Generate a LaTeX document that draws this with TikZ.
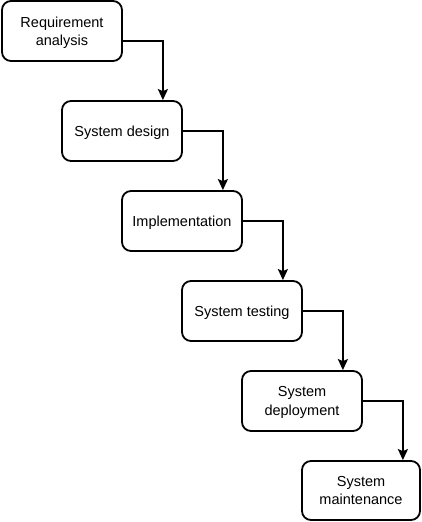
\documentclass[tikz,border=0pt]{standalone}
\usepackage{fontspec}
\setmainfont{Liberation Sans}
\usetikzlibrary{arrows.meta}
\begin{document}
\begin{tikzpicture}[x=1pt,y=-1pt,
  stage/.style={draw, line width=1.8pt, rounded corners=9pt, minimum width=120pt, minimum height=60pt, align=center, font=\fontsize{14.5pt}{18.5pt}\selectfont, inner sep=0pt, text depth=0pt},
  flow/.style={draw, line width=1.8pt, -{Stealth[length=11pt,width=10pt,inset=2pt]}}]
\useasboundingbox (0,0) rectangle (422,522);
\node[stage] (a) at (62,31) {Requirement\\analysis};
\node[stage] (b) at (122,131) {System design};
\node[stage] (c) at (182,221) {Implementation};
\node[stage] (d) at (242,311) {System testing};
\node[stage] (e) at (302,401) {System\\deployment};
\node[stage, minimum width=118pt, minimum height=59pt] (f) at (361,490.5) {System\\maintenance};
\coordinate (ax) at (122,41);
\draw[flow] (ax) -| ([xshift=-20pt]b.north east);
\draw[flow] (b.east) -| ([xshift=-20pt]c.north east);
\draw[flow] (c.east) -| ([xshift=-20pt]d.north east);
\draw[flow] (d.east) -| ([xshift=-20pt]e.north east);
\draw[flow] (e.east) -| ([xshift=-18pt]f.north east);
\end{tikzpicture}
\end{document}
